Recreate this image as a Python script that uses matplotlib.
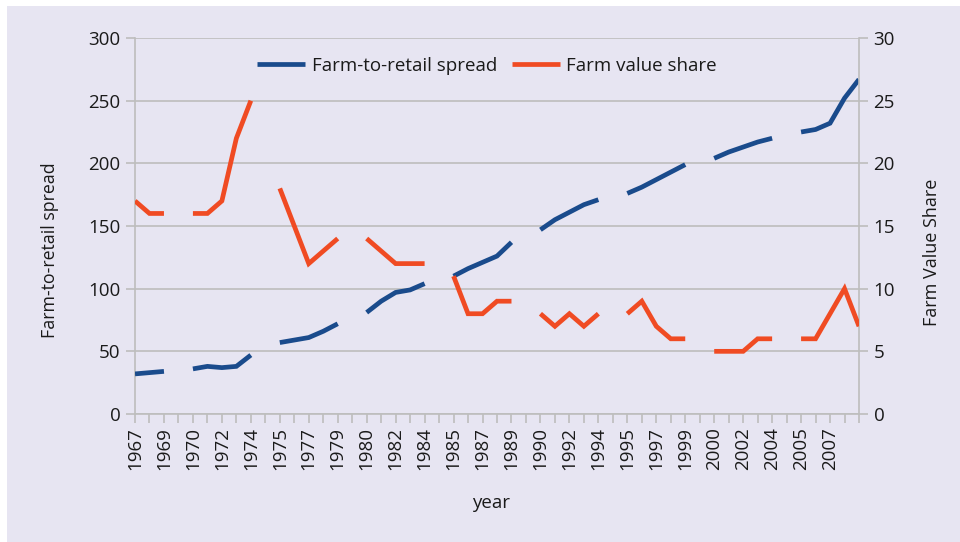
import numpy as np
import matplotlib
matplotlib.use("Agg")
import matplotlib.pyplot as plt
from matplotlib.patches import Rectangle
from matplotlib.lines import Line2D

years = ['1967', '1968', '1969', '', '1970', '1971', '1972', '1973', '1974', '',
         '1975', '1976', '1977', '1978', '1979', '', '1980', '1981', '1982', '1983',
         '1984', '', '1985', '1986', '1987', '1988', '1989', '', '1990', '1991',
         '1992', '1993', '1994', '', '1995', '1996', '1997', '1998', '1999', '',
         '2000', '2001', '2002', '2003', '2004', '', '2005', '2006', '2007', '2008', '']

spread = [32, 33, 34, None, 36, 38, 37, 38, 47, None,
          57, 59, 61, 66, 72, None, 81, 90, 97, 99,
          104, None, 110, 116, 121, 126, 137, None, 147, 155,
          161, 167, 171, None, 176, 181, 187, 193, 199, None,
          204, 209, 213, 217, 220, None, 225, 227, 232, 252, 267]

share = [17, 16, 16, None, 16, 16, 17, 22, 25, None,
         18, 15, 12, 13, 14, None, 14, 13, 12, 12,
         12, None, 11, 8, 8, 9, 9, None, 8, 7,
         8, 7, 8, None, 8, 9, 7, 6, 6, None,
         5, 5, 5, 6, 6, None, 6, 6, 8, 10, 7]

left_ticks = [0, 50, 100, 150, 200, 250, 300]
right_ticks = [0, 5, 10, 15, 20, 25, 30]

BG = '#E7E5F2'
GRID = '#BDBDBD'
BLUE = '#1A4B8C'
RED = '#F04B23'
TXT = '#1a1a1a'

plt.rcParams['font.family'] = ['Open Sans', 'DejaVu Sans']

fig = plt.figure(figsize=(9.6, 5.42), dpi=100, facecolor=BG)
fig.patches.append(Rectangle((0, 1 - 6 / 542), 1, 6 / 542 + 0.01, transform=fig.transFigure,
                             facecolor='white', edgecolor='none', zorder=-10))
fig.patches.append(Rectangle((0, 0), 7 / 960, 1, transform=fig.transFigure,
                             facecolor='white', edgecolor='none', zorder=-10))

ax = fig.add_axes([135 / 960, 1 - 414 / 542, 724 / 960, 376 / 542])
ax.set_facecolor('none')
ax2 = ax.twinx()
ax2.set_facecolor('none')

x = np.arange(len(years))
s1 = np.array([np.nan if v is None else v for v in spread], dtype=float)
s2 = np.array([np.nan if v is None else v for v in share], dtype=float)

ax.plot(x, s1, color=BLUE, lw=3.4, solid_capstyle='butt', solid_joinstyle='miter', zorder=3)
ax2.plot(x, s2, color=RED, lw=3.4, solid_capstyle='butt', solid_joinstyle='miter', zorder=3)

ax.set_xlim(0, len(years) - 1)
ax.set_ylim(0, 300)
ax2.set_ylim(0, 30)
ax.set_yticks(left_ticks)
ax2.set_yticks(right_ticks)
ax.yaxis.grid(True, color=GRID, lw=1.2)
ax.set_axisbelow(True)

ax.set_xticks(x)
ax.set_xticklabels([years[i] if i % 2 == 0 else '' for i in x], rotation=90, fontsize=13.5, color=TXT)
ax.tick_params(axis='x', length=6.5, width=1.2, color=GRID, pad=3)
ax.tick_params(axis='y', length=6.5, width=1.2, color=GRID, pad=4, labelsize=13.5, labelcolor=TXT)
ax2.tick_params(axis='y', length=6.5, width=1.2, color=GRID, pad=4, labelsize=13.5, labelcolor=TXT)

for a in (ax, ax2):
    for sp in a.spines.values():
        sp.set_visible(False)
ax.spines['left'].set_visible(True)
ax.spines['left'].set_color(GRID)
ax.spines['left'].set_linewidth(1.2)
ax.spines['bottom'].set_visible(True)
ax.spines['bottom'].set_color(GRID)
ax.spines['bottom'].set_linewidth(1.2)
ax2.spines['right'].set_visible(True)
ax2.spines['right'].set_color(GRID)
ax2.spines['right'].set_linewidth(1.2)

handles = [Line2D([], [], color=BLUE, lw=3.4, solid_capstyle='butt'),
           Line2D([], [], color=RED, lw=3.4, solid_capstyle='butt')]
fig.legend(handles, ['Farm-to-retail spread', 'Farm value share'], ncol=2, frameon=False,
           loc='center', bbox_to_anchor=(487 / 960, 1 - 66 / 542), fontsize=13.5,
           handlelength=2.55, handletextpad=0.35, columnspacing=0.8, labelcolor=TXT)

fig.text(50 / 960, 1 - 250 / 542, 'Farm-to-retail spread', rotation=90, ha='center', va='center',
         fontsize=12.8, color=TXT)
fig.text(932 / 960, 1 - 252 / 542, 'Farm Value Share', rotation=90, ha='center', va='center',
         fontsize=13, color=TXT)
fig.text(491 / 960, 1 - 503 / 542, 'year', ha='center', va='center', fontsize=13.5, color=TXT)

fig.savefig('out.png', dpi=100, facecolor=fig.get_facecolor())
